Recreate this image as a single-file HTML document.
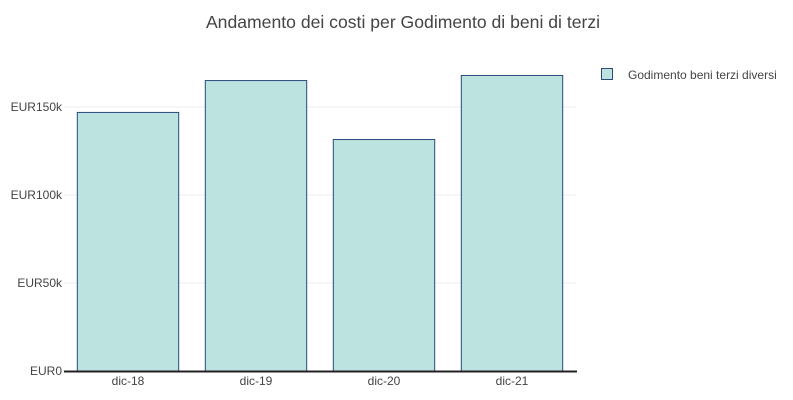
<!DOCTYPE html>
<html><head><meta charset="utf-8"><style>
body{margin:0;background:#fff;font-family:"Liberation Sans",Arial,sans-serif}
svg{display:block}
</style></head><body>
<svg id="chart" width="793" height="400">
<text x="403" y="28" text-anchor="middle" font-size="17.6" fill="#444">Andamento dei costi per Godimento di beni di terzi</text>
<g id="grid"></g><g id="bars"></g><g id="axes"></g>
<g>
<rect x="601.5" y="68.5" width="11" height="11" fill="#bce3df" stroke="#2a4a7a"/>
<text x="628" y="79" font-size="12" fill="#444">Godimento beni terzi diversi</text>
</g>
</svg>
<script>
const categories=["dic-18","dic-19","dic-20","dic-21"];
const values=[147200,165300,131800,168200];
const ticks=[0,50000,100000,150000];
const tickLabels=["EUR0","EUR50k","EUR100k","EUR150k"];
const NS="http://www.w3.org/2000/svg";
const x0=64,x1=576,y0=371,pxPer=88/50000;
const y=v=>y0-v*pxPer;
const band=(x1-x0)/categories.length;
function mk(t,a,p){const e=document.createElementNS(NS,t);for(const k in a)e.setAttribute(k,a[k]);p.appendChild(e);return e;}
const grid=document.getElementById('grid'),bars=document.getElementById('bars'),axes=document.getElementById('axes');
ticks.forEach((t,i)=>{
 if(t>0){const l=mk('line',{x1:x0,x2:x1,y1:y(t),y2:y(t),stroke:'#eee'},grid);
 
 }
 const tx=mk('text',{x:x0-2,y:y(t)+4,'text-anchor':'end','font-size':12,fill:'#444'},axes);
 tx.textContent=tickLabels[i];
 
 
});
categories.forEach((c,i)=>{
 const bw=band*0.8,bx=x0+band*i+band*0.1;
 const r=mk('rect',{x:bx+0.5,y:y(values[i])+0.5,width:bw-1,height:y0-y(values[i])-0.5,fill:'#bce3df',stroke:'#2a4a7a','stroke-width':1},bars);
 
 
 const tx=mk('text',{x:x0+band*(i+0.5),y:y0+14,'text-anchor':'middle','font-size':12,fill:'#444'},axes);
 tx.textContent=c;
 
 
});
const ax=mk('line',{x1:x0,x2:x1+1,y1:y0+0.5,y2:y0+0.5,stroke:'#222','stroke-width':2},axes);


</script>
</body></html>
